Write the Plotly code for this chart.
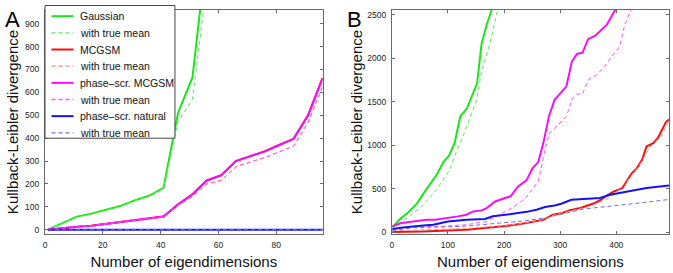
import plotly.graph_objects as go

W, H = 673, 273

# ---------------- Panel A data ----------------
a_x = [1, 6, 11, 16, 21, 26, 31, 36, 41, 46, 51, 56, 61, 66, 71, 76, 81, 86, 91, 96]
a_gauss = [0, 30, 57, 70, 85, 103, 128, 148, 183, 510, 665, 1220, None, None, None, None, None, None, None, None]
a_gauss_tm = [0, 28, 55, 68, 83, 101, 126, 146, 181, 470, 570, 1075, None, None, None, None, None, None, None, None]
a_mcgsm = [0, 7, 13, 17, 25, 33, 43, 48, 57, 110, 155, 215, 238, 300, 320, 342, 370, 397, 500, 662]
a_mcgsm_tm = [0, 7, 13, 17, 25, 33, 43, 48, 57, 105, 145, 200, 215, 275, 295, 315, 340, 365, 470, 625]
a_phase = [0, 7, 13, 17, 25, 33, 43, 48, 57, 110, 155, 215, 238, 300, 320, 342, 370, 397, 500, 662]
a_phase_tm = [0, 7, 13, 17, 25, 33, 43, 48, 57, 105, 145, 200, 215, 275, 295, 315, 340, 365, 470, 625]
a_natural = [0] * 20
a_natural_tm = [0] * 20

# ---------------- Panel B data ----------------
b_gauss_x = [1, 15, 30, 45, 55, 68, 80, 92, 102, 112, 122, 134, 152, 160, 169, 178, 185]
b_gauss_y = [55, 150, 230, 330, 430, 545, 660, 805, 880, 1025, 1330, 1425, 1715, 2170, 2385, 2560, 2700]
b_gauss_tm_x = [1, 15, 32, 56, 80, 103, 115, 130, 151, 160, 175, 190]
b_gauss_tm_y = [40, 110, 180, 315, 490, 715, 925, 1155, 1520, 1850, 2175, 2600]
b_mcgsm_x = [1, 56, 133, 169, 198, 219, 240, 270, 287, 304, 316, 336, 346, 362, 373, 385, 396, 411, 420, 428, 437, 446, 454, 466, 474, 489, 494]
b_mcgsm_y = [0, 7, 26, 46, 65, 84, 103, 141, 199, 219, 249, 276, 295, 334, 372, 429, 467, 506, 602, 679, 736, 832, 985, 1024, 1081, 1272, 1295]
b_mcgsm_tm_x = [1, 60, 133, 200, 240, 270, 290, 320, 350, 380, 400, 420, 440, 460, 480, 494]
b_mcgsm_tm_y = [15, 25, 40, 72, 105, 145, 200, 245, 292, 365, 455, 595, 755, 980, 1100, 1290]
b_phase_x = [1, 17, 38, 62, 77, 100, 118, 133, 145, 160, 169, 184, 198, 212, 225, 240, 251, 261, 270, 280, 290, 311, 321, 330, 340, 350, 362, 371, 383, 398, 405]
b_phase_y = [65, 103, 122, 141, 141, 161, 180, 199, 237, 249, 276, 352, 383, 413, 525, 595, 736, 805, 1024, 1330, 1522, 1675, 1963, 2051, 2066, 2224, 2258, 2308, 2385, 2557, 2650]
b_phase_tm_x = [1, 32, 86, 133, 169, 192, 219, 240, 261, 273, 281, 291, 311, 322, 330, 340, 350, 365, 379, 392, 406, 415, 427, 435]
b_phase_tm_y = [26, 53, 65, 84, 122, 200, 295, 403, 582, 947, 1139, 1197, 1330, 1542, 1588, 1591, 1752, 1810, 1905, 2020, 2135, 2385, 2557, 2700]
b_natural_x = [1, 20, 56, 74, 100, 133, 166, 180, 210, 240, 258, 273, 290, 302, 320, 335, 371, 389, 412, 436, 454, 494]
b_natural_y = [35, 53, 76, 84, 122, 141, 150, 182, 205, 232, 257, 288, 306, 326, 372, 380, 391, 429, 456, 487, 506, 537]
b_natural_tm_x = [1, 40, 100, 133, 192, 228, 270, 299, 341, 389, 442, 494]
b_natural_tm_y = [20, 50, 60, 68, 103, 122, 160, 199, 265, 295, 334, 375]

# ---------------- labels ----------------
legend_labels = ["Gaussian", "with true mean", "MCGSM", "with true mean",
                 "phase\u2013scr. MCGSM", "with true mean", "phase\u2013scr. natural", "with true mean"]
a_xticks = [0, 20, 40, 60, 80]
a_yticks = [0, 100, 200, 300, 400, 500, 600, 700, 800, 900]
b_xticks = [0, 100, 200, 300, 400]
b_yticks = [0, 500, 1000, 1500, 2000, 2500]
x_title = "Number of eigendimensions"
y_title = "Kullback-Leibler divergence"

GREEN, GREEN_D = "#19e619", "#5fe85f"
RED, RED_D = "#f21111", "#ff8a80"
MAG, MAG_D = "#f50ff5", "#ff55ff"
BLUE, BLUE_D = "#1414f0", "#6a6aff"
styles = [(GREEN, 2, "solid"), (GREEN_D, 1, "4px,3px"), (RED, 2, "solid"), (RED_D, 1, "4px,3px"),
          (MAG, 2, "solid"), (MAG_D, 1, "4px,3px"), (BLUE, 2, "solid"), (BLUE_D, 1, "4px,3px")]

FONT = "Liberation Sans, Arial, Helvetica, sans-serif"

fig = go.Figure()

a_series = [a_gauss, a_gauss_tm, a_mcgsm, a_mcgsm_tm, a_phase, a_phase_tm, a_natural, a_natural_tm]
for i, ys in enumerate(a_series):
    c, w, d = styles[i]
    fig.add_trace(go.Scatter(x=a_x, y=ys, mode="lines", line=dict(color=c, width=w, dash=d),
                             xaxis="x", yaxis="y", showlegend=False, name=legend_labels[i]))

b_series = [(b_gauss_x, b_gauss_y), (b_gauss_tm_x, b_gauss_tm_y), (b_mcgsm_x, b_mcgsm_y),
            (b_mcgsm_tm_x, b_mcgsm_tm_y), (b_phase_x, b_phase_y), (b_phase_tm_x, b_phase_tm_y),
            (b_natural_x, b_natural_y), (b_natural_tm_x, b_natural_tm_y)]
for i, (xs, ys) in enumerate(b_series):
    c, w, d = styles[i]
    fig.add_trace(go.Scatter(x=xs, y=ys, mode="lines", line=dict(color=c, width=w, dash=d),
                             xaxis="x2", yaxis="y2", showlegend=False, name=legend_labels[i]))

# plot-area margins (pixels)
ML, MR, MT, MB = 45, 3.7, 9.5, 39
PW, PH = W - ML - MR, H - MT - MB

def px(x):  # figure pixel -> paper fraction (paper spans the plot area)
    return (x - ML) / PW

def py(y):
    return (H - MB - y) / PH

axis_common = dict(showline=True, linecolor="#6a6a6a", linewidth=1, mirror="ticks", ticks="inside",
                   ticklen=3, tickcolor="#6a6a6a", showgrid=False, zeroline=False, automargin=False,
                   tickfont=dict(family=FONT, size=8.5, color="#222"), ticklabelstandoff=3)
tfont = dict(family=FONT, size=15, color="#111")

fig.update_layout(
    width=W, height=H, plot_bgcolor="white", paper_bgcolor="white",
    margin=dict(l=ML, r=MR, t=MT, b=MB),
    xaxis=dict(domain=[0, px(322.7)], range=[0, 96], tickvals=a_xticks, anchor="y",
               title=dict(text=x_title, font=tfont, standoff=7), **axis_common),
    yaxis=dict(domain=[0, 1], range=[-19, 960], tickvals=a_yticks, anchor="x",
               title=dict(text=y_title, font=tfont, standoff=2), **axis_common),
    xaxis2=dict(domain=[px(392), 1], range=[0, 494], tickvals=b_xticks, anchor="y2",
                title=dict(text=x_title, font=tfont, standoff=7), **axis_common),
    yaxis2=dict(domain=[0, 1], range=[-23, 2557], tickvals=b_yticks, anchor="x2",
                title=dict(text=y_title, font=tfont, standoff=0), **axis_common),
)

# legend box (manual, placed in pixels)
shapes = [dict(type="rect", xref="paper", yref="paper", x0=px(45), x1=px(175), y0=py(138), y1=py(5),
               line=dict(color="#444", width=1), fillcolor="white", layer="above")]
annots = []
for i, lab in enumerate(legend_labels):
    yc = 15.7 + 16.7 * i
    c, w, d = styles[i]
    shapes.append(dict(type="line", xref="paper", yref="paper", x0=px(51.5), x1=px(73.5), y0=py(yc), y1=py(yc),
                       line=dict(color=c, width=w + (0.3 if d != "solid" else 0),
                                 dash="4px,3px" if d != "solid" else "solid"), layer="above"))
    annots.append(dict(text=lab, xref="paper", yref="paper", x=px(78.5), y=py(yc), xanchor="left", yanchor="middle",
                       showarrow=False, font=dict(family=FONT, size=10.5, color="#111")))

annots.append(dict(text="A", xref="paper", yref="paper", x=px(12.5), y=py(19.5), xanchor="center", yanchor="middle",
                   showarrow=False, font=dict(family=FONT, size=22, color="#000")))
annots.append(dict(text="B", xref="paper", yref="paper", x=px(354.5), y=py(19.5), xanchor="center", yanchor="middle",
                   showarrow=False, font=dict(family=FONT, size=22, color="#000")))

fig.update_layout(shapes=shapes, annotations=annots)
fig.write_html("out.html", config={"displayModeBar": False},
               post_script="document.body.style.margin='0';document.body.style.overflow='hidden';")
